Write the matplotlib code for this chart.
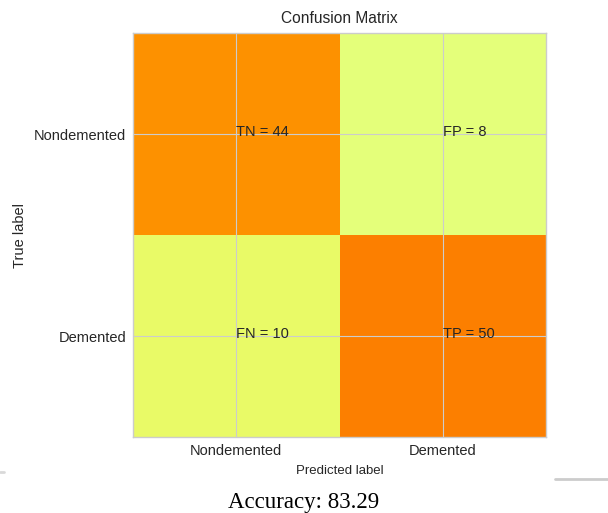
import matplotlib
matplotlib.use('Agg')
from matplotlib import pyplot as plt
from matplotlib.lines import Line2D
import numpy as np

# confusion matrix values
classes = ['Nondemented', 'Demented']
cells = [['TN', 'FP'], ['FN', 'TP']]
cm = np.array([[44, 8], [10, 50]])
accuracy = 83.29

plt.style.use('seaborn-v0_8-whitegrid')
plt.rcParams['font.family'] = ['Liberation Sans', 'DejaVu Sans']
plt.rcParams['text.color'] = '.15'
plt.rcParams['axes.labelcolor'] = '.15'
plt.rcParams['xtick.color'] = '.15'
plt.rcParams['ytick.color'] = '.15'

fig = plt.figure(figsize=(6.08, 5.13), dpi=100)
ax = fig.add_axes([0.2188, 0.1481, 0.6793, 0.7875])
ax.imshow(cm, interpolation='nearest', cmap='Wistia', aspect='auto')
ax.set_title('Confusion Matrix', fontsize=11.2, pad=7)
ax.set_ylabel('True label', fontsize=10.5, labelpad=5)
ax.set_xlabel('Predicted label', fontsize=9.5, labelpad=5)
ax.set_xticks(np.arange(len(classes)))
ax.set_xticklabels(classes, fontsize=10.5)
ax.set_yticks(np.arange(len(classes)))
ax.set_yticklabels(classes, fontsize=10.5)
ax.tick_params(length=0, pad=5)
for sp in ax.spines.values():
    sp.set_color('.8')

for i in range(2):
    for j in range(2):
        ax.text(j, i + 0.01, cells[i][j] + ' = ' + str(cm[i][j]), fontsize=10.5)

# caption under the figure
fig.text(0.5, 0.0, 'Accuracy: ' + str(accuracy), ha='center', va='bottom',
         fontsize=16.5, family='Liberation Serif', color='black')

# faint screenshot edge
fig.add_artist(Line2D([555 / 608, 1.0], [1 - 479 / 513, 1 - 479 / 513],
                      transform=fig.transFigure, color='.8', lw=2))
fig.add_artist(Line2D([0, 4 / 608], [1 - 472 / 513, 1 - 472 / 513],
                      transform=fig.transFigure, color='.85', lw=2))

fig.savefig('out.png', dpi=100)
